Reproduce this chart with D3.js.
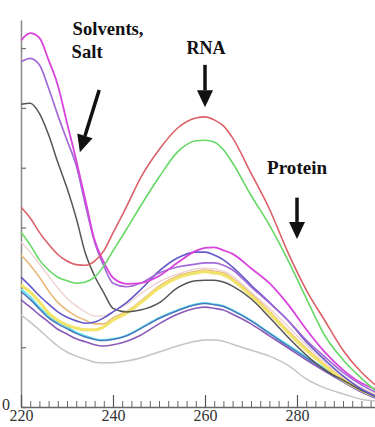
<!DOCTYPE html>
<html><head><meta charset="utf-8">
<script src="https://cdn.jsdelivr.net/npm/d3@7"></script>
<style>html,body{margin:0;padding:0;background:#fff;overflow:hidden}
svg text{font-family:"Liberation Serif","Times New Roman","DejaVu Serif",serif;}</style>
</head><body>
<svg id="chart" width="375" height="427"></svg>
<script>
const wavelengths = [220,222,224,226,228,230,232,234,236,238,240,243,246,250,254,258,260,262,264,266,270,274,278,282,286,290,294,297];
const xMajorTicks = [220,240,260,280];
const yTicks = [0,1,2,3,4,5,6];

const grayS    = [1.54,1.42,1.29,1.15,1.02,0.92,0.85,0.80,0.75,0.74,0.74,0.77,0.82,0.92,1.02,1.10,1.12,1.12,1.10,1.05,0.95,0.85,0.70,0.47,0.32,0.22,0.13,0.10];
const darkPurpleS = [1.79,1.67,1.54,1.42,1.30,1.22,1.14,1.09,1.04,1.02,1.04,1.10,1.20,1.39,1.55,1.65,1.67,1.65,1.62,1.55,1.39,1.19,0.99,0.79,0.60,0.42,0.25,0.15];
const steelBlueS = [1.93,1.80,1.64,1.49,1.39,1.31,1.23,1.17,1.13,1.11,1.13,1.19,1.31,1.48,1.61,1.71,1.73,1.71,1.68,1.61,1.44,1.23,1.02,0.82,0.63,0.43,0.27,0.16];
const cyanS    = [1.97,1.84,1.67,1.52,1.42,1.34,1.25,1.19,1.14,1.12,1.14,1.20,1.32,1.49,1.62,1.72,1.74,1.72,1.69,1.62,1.45,1.24,1.04,0.84,0.65,0.45,0.28,0.17];
const palePinkS = [2.76,2.59,2.39,2.19,1.99,1.82,1.69,1.59,1.52,1.52,1.59,1.72,1.89,2.09,2.22,2.31,2.32,2.31,2.27,2.19,1.92,1.65,1.35,1.04,0.75,0.50,0.32,0.22];
const tanS     = [2.54,2.37,2.17,1.94,1.75,1.62,1.52,1.45,1.39,1.39,1.49,1.60,1.77,2.02,2.19,2.27,2.29,2.27,2.24,2.15,1.89,1.60,1.28,0.98,0.71,0.47,0.29,0.19];
const yellowS  = [2.04,1.92,1.76,1.57,1.45,1.37,1.32,1.29,1.29,1.34,1.45,1.57,1.74,1.99,2.16,2.24,2.26,2.24,2.21,2.12,1.86,1.57,1.25,0.95,0.69,0.45,0.28,0.18];
const blackS   = [5.06,5.08,4.91,4.55,4.09,3.66,3.16,2.57,2.19,1.91,1.65,1.59,1.62,1.74,1.99,2.11,2.12,2.12,2.09,2.02,1.81,1.50,1.17,0.87,0.62,0.45,0.28,0.18];
const blueVioletS = [2.17,2.02,1.86,1.72,1.59,1.50,1.44,1.40,1.42,1.49,1.59,1.75,1.96,2.27,2.49,2.59,2.59,2.54,2.46,2.34,2.04,1.75,1.45,1.09,0.79,0.52,0.30,0.18];
const purpleS  = [5.77,5.83,5.72,5.33,4.88,4.46,4.04,3.38,2.76,2.36,2.07,2.01,2.07,2.24,2.34,2.39,2.41,2.41,2.37,2.29,2.01,1.74,1.45,1.12,0.84,0.58,0.37,0.25];
const magentaS = [6.13,6.25,6.17,5.80,5.38,4.75,4.13,3.46,2.79,2.42,2.16,2.06,2.07,2.19,2.41,2.61,2.66,2.67,2.62,2.56,2.32,2.07,1.72,1.30,0.92,0.62,0.40,0.30];
const greenS   = [2.92,2.71,2.46,2.29,2.17,2.11,2.07,2.09,2.17,2.36,2.61,2.98,3.36,3.84,4.26,4.45,4.46,4.43,4.30,4.08,3.54,3.04,2.46,1.82,1.20,0.79,0.48,0.28];
const redS     = [3.34,3.16,2.92,2.72,2.55,2.44,2.38,2.37,2.44,2.61,2.91,3.36,3.83,4.30,4.66,4.83,4.85,4.80,4.70,4.50,3.91,3.31,2.59,1.96,1.45,0.95,0.58,0.37];

const seriesList = [
  {values: grayS, color: "#c4c4c4", w: 1.5},
  {values: darkPurpleS, color: "#8a5ab8", w: 1.6},
  {values: cyanS, color: "#5fe0ee", w: 1.8},
  {values: steelBlueS, color: "#4a78bc", w: 1.5},
  {values: palePinkS, color: "#f0d2d2", w: 1.4},
  {values: tanS, color: "#e9b97a", w: 1.6},
  {values: yellowS, color: "#f2e46a", w: 3},
  {values: blackS, color: "#555555", w: 1.5},
  {values: blueVioletS, color: "#6258c8", w: 1.6},
  {values: purpleS, color: "#a26ad6", w: 1.7},
  {values: magentaS, color: "#d944dc", w: 1.8},
  {values: greenS, color: "#66d866", w: 1.6},
  {values: redS, color: "#dc6068", w: 1.6}
];

const labels = [
  {text: "Solvents,", nm: 231.2, v: 6.22, len: 71},
  {text: "Salt", nm: 231.0, v: 5.83, len: 31},
  {text: "RNA", nm: 256.0, v: 5.90, len: 39},
  {text: "Protein", nm: 273.5, v: 3.90, len: 60}
];
const arrows = [
  {nm0: 237.0, v0: 5.30, nm1: 232.8, v1: 4.26},
  {nm0: 260.0, v0: 5.72, nm1: 260.0, v1: 5.01},
  {nm0: 280.0, v0: 3.50, nm1: 280.0, v1: 2.81}
];

const SERIF = '"Liberation Serif","Times New Roman","DejaVu Serif",serif';

const svg = d3.select("#chart");
const x = d3.scaleLinear().domain([220, 297]).range([21, 375.2]);
const y = d3.scaleLinear().domain([0, 6.47]).range([407, 20]);

// axes
const yAxis = d3.axisLeft(y).tickValues(yTicks).tickSizeInner(-5).tickSizeOuter(0)
  .tickPadding(11).tickFormat(d => d === 0 ? "0" : "");
const gy = svg.append("g").attr("transform","translate(21,0)").call(yAxis);
gy.attr("font-family", null);
gy.select(".domain").attr("stroke","#8a8a8a").attr("stroke-width",1.5);
gy.selectAll(".tick line").attr("stroke","#777").attr("stroke-width",1.3);
gy.selectAll("text").style("font-family", SERIF).style("font-size","16px").attr("fill","#333").attr("dy","0.15em");

const minorTicks = d3.range(222, 297, 2).filter(d => !xMajorTicks.includes(d));
const gxm = svg.append("g").attr("transform","translate(0,407)")
  .call(d3.axisBottom(x).tickValues(minorTicks).tickSizeInner(-6).tickSizeOuter(0).tickFormat(""));
gxm.select(".domain").remove();
gxm.selectAll(".tick line").attr("stroke","#666").attr("stroke-width",1);

const gx = svg.append("g").attr("transform","translate(0,407)")
  .call(d3.axisBottom(x).tickValues(xMajorTicks).tickSizeInner(-12).tickSizeOuter(0).tickPadding(3).tickFormat(d3.format("d")));
gx.attr("font-family", null);
gx.select(".domain").attr("stroke","#666").attr("stroke-width",1.5);
gx.selectAll(".tick line").attr("stroke","#555").attr("stroke-width",1.2);
gx.selectAll("text").style("font-family", SERIF).style("font-size","16px").attr("fill","#333");

// curves
const line = d3.line()
  .x((d,i) => x(wavelengths[i]))
  .y(d => y(d))
  .curve(d3.curveMonotoneX);

svg.append("g").selectAll("path").data(seriesList).join("path")
  .attr("d", s => line(s.values))
  .attr("fill","none")
  .attr("stroke", s => s.color)
  .attr("stroke-width", s => s.w)
  .attr("stroke-linejoin","round");

// annotations
svg.append("g").selectAll("text").data(labels).join("text")
  .attr("x", d => x(d.nm)).attr("y", d => y(d.v))
  .style("font-family", SERIF).style("font-weight","bold")
  .style("font-size","18px").attr("fill","#111")
  .attr("textLength", d => d.len).attr("lengthAdjust","spacingAndGlyphs")
  .text(d => d.text);

const ag = svg.append("g");
arrows.forEach(a => {
  const x0 = x(a.nm0), y0 = y(a.v0), x1 = x(a.nm1), y1 = y(a.v1);
  const ang = Math.atan2(y1 - y0, x1 - x0);
  const headLen = 17, headHalf = 8;
  const bx = x1 - headLen * Math.cos(ang), by = y1 - headLen * Math.sin(ang);
  ag.append("line").attr("x1", x0).attr("y1", y0).attr("x2", bx).attr("y2", by)
    .attr("stroke","#111").attr("stroke-width",3.5);
  const px = -Math.sin(ang), py = Math.cos(ang);
  ag.append("path")
    .attr("d", `M${x1},${y1}L${bx + px*headHalf},${by + py*headHalf}L${bx - px*headHalf},${by - py*headHalf}Z`)
    .attr("fill","#111");
});
</script>
</body></html>
